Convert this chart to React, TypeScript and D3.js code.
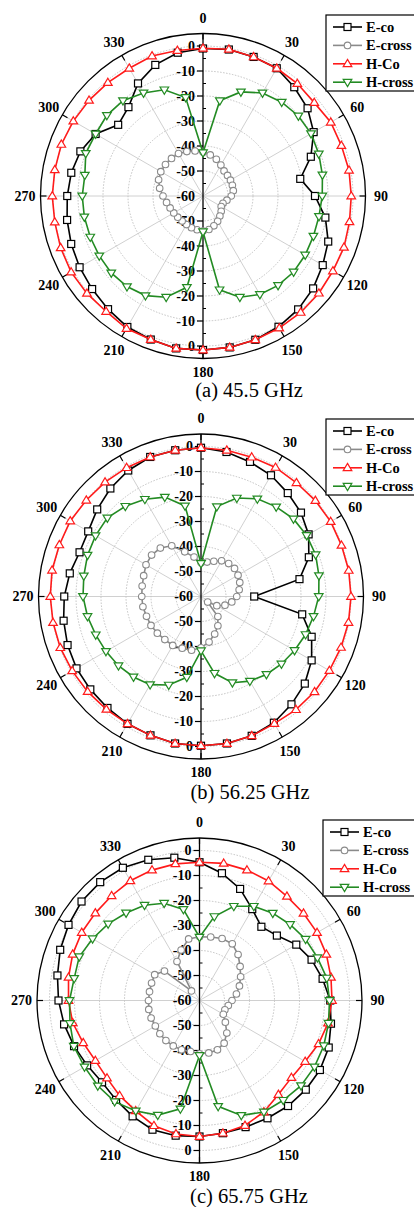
import React, { useEffect, useRef } from 'react';
import * as d3 from 'd3';

// angle of every sample, degrees clockwise from top
const angles = [0, 10, 20, 30, 40, 50, 60, 70, 80, 90, 100, 110, 120, 130, 140, 150, 160, 170,
  180, 190, 200, 210, 220, 230, 240, 250, 260, 270, 280, 290, 300, 310, 320, 330, 340, 350];

const angleTicks = [0, 30, 60, 90, 120, 150, 180, 210, 240, 270, 300, 330];
const radialTicks = [-50, -40, -30, -20, -10, 0];
const minorTicks = [-55, -45, -35, -25, -15, -5];
const seriesNames = ['E-co', 'E-cross', 'H-Co', 'H-cross'];
const captions = ['(a) 45.5 GHz', '(b) 56.25 GHz', '(c) 65.75 GHz'];

// (a) 45.5 GHz
const eCoA = [-1, -0.5, -0.8, -1, -3.2, -5.4, -8.9, -14.1, -20.5, -15.2, -10.3, -6.7, -4.7, -2.5, -0.8, 0.4, 1.2, 1.5,
  1.6, 1.9, 1.1, 0.5, -0.9, -2.1, -3, -3.9, -4.8, -5.7, -6.5, -7.8, -10.4, -15.7, -13.6, -8, -4.2, -1.8];
const eCrossA = [-42.5, -43.3, -44.4, -45.7, -46.9, -47.2, -47.3, -47.5, -47.7, -48.7, -50.3, -51.5, -51.6, -50.5, -49.5, -48.3, -47.3, -46.4,
  -46, -46.3, -46.5, -46.8, -47, -46.8, -46.5, -46, -45.2, -44, -42.4, -41.1, -40.5, -40.4, -40.4, -40.4, -41.1, -41.7];
const hCoA = [-0.9, -0.4, -0.8, -1, -1.3, -1.9, -1, -1.1, -0.7, -0.7, -0.5, 0, 0, 0.5, 0.8, 1, 1.2, 1.5,
  1.6, 1.9, 1.1, 1.2, 0.3, 0.6, 0.9, 0.6, 0.2, 0.3, 0.2, 0.3, -0.1, -0.5, -0.8, -1, -0.4, -0.9];
const hCrossA = [-42.7, -21.3, -15.7, -12.4, -11, -10.2, -10.1, -10.7, -11.5, -12.3, -12.9, -13, -12.8, -12.7, -13.3, -14.5, -16.9, -21.9,
  -45.7, -22.9, -16.9, -14, -12.7, -12.1, -12.1, -12, -11.8, -11.7, -12, -10.1, -10.4, -9.8, -10.2, -12.4, -14.8, -20];

// (b) 56.25 GHz
const eCoB = [-0.5, -1.3, -2.7, -4, -6, -7.8, -10.3, -14.1, -20, -38.7, -18.9, -12.9, -8.9, -5.8, -3.7, -1.7, -0.7, -0.3,
  -0.3, -0.3, -0.9, -1.2, -1.8, -2.2, -2.5, -3.2, -4.2, -5.3, -6.7, -8.3, -7.9, -5.8, -3.6, -1.8, -0.6, -0.6];
const eCrossB = [-46.5, -46, -45, -43.5, -42.8, -42.5, -42.9, -43.5, -44.5, -45.7, -47.5, -49.8, -52.7, -56.5, -49.5, -46.5, -44, -41.5,
  -39.5, -38.2, -38, -37.4, -37.5, -37.2, -36.9, -36.8, -36.4, -36.3, -36.1, -35.6, -34.6, -34.2, -34.7, -36.6, -41, -44];
const hCoB = [-0.5, -0.6, -0.7, -0.4, -0.6, -0.3, -0.1, -0.2, 0, 0, -0.1, -0.4, -0.7, -0.7, -0.9, -1.3, -0.7, -0.3,
  -0.3, -0.3, -0.9, -1.2, -1.1, -0.8, -0.5, -0.1, 0.1, 0.3, 0.5, 0.3, 0.4, -0.1, -0.3, -0.5, -0.6, -0.6];
const hCrossB = [-46.8, -23.5, -18.1, -14.9, -13.2, -11.7, -11.2, -11.2, -12.1, -12.9, -14.3, -15.5, -16.8, -18, -19.3, -20.9, -23.3, -28.8,
  -38.3, -27.2, -22.3, -19.3, -18, -16.9, -16.1, -15.2, -13.9, -12.8, -12.4, -11.7, -11.3, -11.1, -12.9, -15.1, -17.7, -23.2];

// (c) 65.75 GHz
const eCoC = [-4.7, -8.3, -12.5, -17.8, -21.5, -19.6, -15.3, -12.3, -10, -7.7, -6.6, -5, -4.4, -4.5, -4.9, -5.6, -6.1, -6.1,
  -5.6, -5.1, -5, -6.5, -8.1, -9.1, -8.1, -6.6, -5, -3.6, -2.3, -0.7, 0.5, 1.6, 1.8, 1.3, -0.1, -2];
const eCrossC = [-34.5, -34.2, -33.6, -33.8, -36, -38.8, -41, -43, -45, -47, -48.3, -49.2, -49, -46.5, -43, -40.3, -39, -38.7,
  -38.7, -39.3, -39, -39, -39.1, -39.3, -39.6, -39.4, -39.4, -39.6, -39.7, -39.6, -39.3, -41.7, -55, -42, -38.5, -35];
const hCoC = [-4.7, -4.3, -4.5, -4.8, -5.6, -5.7, -5.7, -6, -6.6, -7, -7.8, -9.3, -11.2, -12, -10.9, -8.5, -6.8, -6.1,
  -5.6, -5.8, -6.7, -9, -10.3, -11.7, -11.9, -10.5, -8.5, -7.6, -6.8, -6, -5.6, -5.6, -5.3, -4.7, -4.5, -4.5];
const hCrossC = [-34.7, -25.9, -19.9, -16.5, -14.4, -12.7, -11, -9.8, -8.3, -8, -7.6, -7.1, -6.9, -7, -7.9, -8.5, -11.1, -17,
  -38, -16, -11.2, -9, -7.2, -6.9, -6.9, -6.5, -7.4, -8, -9.1, -8.8, -10.6, -12.3, -14.3, -16, -18.6, -23];

const styles = [
  { color: '#000000', marker: 'square' },
  { color: '#8a8a8a', marker: 'circle' },
  { color: '#ff1a1a', marker: 'up' },
  { color: '#238b23', marker: 'down' },
];

const layouts = [
  { cx: 203, cy: 196, legendX: 326, legendY: 15, capX: 249, capY: 397 },
  { cx: 201, cy: 596.5, legendX: 326, legendY: 419, capX: 250, capY: 798.5 },
  { cx: 199.5, cy: 1000.5, legendX: 323, legendY: 820, capX: 249, capY: 1202.5 },
];

const plotData = [
  [eCoA, eCrossA, hCoA, hCrossA],
  [eCoB, eCrossB, hCoB, hCrossB],
  [eCoC, eCrossC, hCoC, hCrossC],
];

const FONT = '"Liberation Serif", "Times New Roman", serif';

function drawMarker(g, type, color, x, y) {
  if (type === 'square') {
    g.append('rect').attr('x', x - 3.5).attr('y', y - 3.5).attr('width', 7).attr('height', 7)
      .attr('fill', '#fff').attr('stroke', color).attr('stroke-width', 1.2);
  } else if (type === 'circle') {
    g.append('circle').attr('cx', x).attr('cy', y).attr('r', 3.3)
      .attr('fill', '#fff').attr('stroke', color).attr('stroke-width', 1.1);
  } else {
    const s = type === 'up' ? 1 : -1;
    g.append('path')
      .attr('d', `M${x},${y - 4.4 * s} L${x + 4.3},${y + 2.8 * s} L${x - 4.3},${y + 2.8 * s} Z`)
      .attr('fill', '#fff').attr('stroke', color).attr('stroke-width', 1.2);
  }
}

function App() {
  const svgRef = useRef(null);

  useEffect(() => {
    const svg = d3.select(svgRef.current);
    svg.selectAll('*').remove();

    const r = d3.scaleLinear().domain([-60, 5]).range([0, 162.5]);
    const rad = (a) => (a * Math.PI) / 180;
    const outer = r(5);

    layouts.forEach((lay, pi) => {
      const g = svg.append('g').attr('transform', `translate(${lay.cx},${lay.cy})`);

      // dotted grid circles
      g.selectAll('circle.grid').data(radialTicks).enter().append('circle')
        .attr('r', (d) => r(d)).attr('fill', 'none')
        .attr('stroke', '#b4b4b4').attr('stroke-width', 0.8).attr('stroke-dasharray', '1.5,1.5');

      // spokes
      angleTicks.filter((a) => a % 180 !== 0).forEach((a) => {
        g.append('line').attr('x1', 0).attr('y1', 0)
          .attr('x2', outer * Math.sin(rad(a))).attr('y2', -outer * Math.cos(rad(a)))
          .attr('stroke', '#c4c4c4').attr('stroke-width', 0.8);
      });

      // outer circle + inward ticks + angle labels
      g.append('circle').attr('r', outer).attr('fill', 'none').attr('stroke', '#000').attr('stroke-width', 1.3);
      angleTicks.forEach((a) => {
        const s = Math.sin(rad(a)), c = Math.cos(rad(a));
        const lr = a === 180 ? 176 : 178;
        g.append('line')
          .attr('x1', outer * s).attr('y1', -outer * c)
          .attr('x2', (outer - 6) * s).attr('y2', -(outer - 6) * c)
          .attr('stroke', '#000').attr('stroke-width', 1.2);
        g.append('text')
          .attr('x', lr * s).attr('y', -lr * c).attr('dy', '0.35em')
          .attr('text-anchor', 'middle').attr('font-family', FONT).attr('font-weight', 'bold')
          .attr('font-size', 14).text(a);
      });

      // vertical radial axis
      g.append('line').attr('x1', 0).attr('y1', -outer).attr('x2', 0).attr('y2', outer)
        .attr('stroke', '#000').attr('stroke-width', 1.3);
      minorTicks.forEach((v) => {
        [-r(v), r(v)].forEach((y) => {
          g.append('line').attr('x1', 0).attr('x2', 3).attr('y1', y).attr('y2', y)
            .attr('stroke', '#000').attr('stroke-width', 1);
        });
      });
      const labels = [{ v: -60, y: 0 }];
      radialTicks.forEach((v) => {
        labels.push({ v, y: -r(v) });
        labels.push({ v, y: r(v) });
      });
      labels.forEach((l) => {
        if (l.v !== -60) {
          g.append('line').attr('x1', -6).attr('x2', 0).attr('y1', l.y).attr('y2', l.y)
            .attr('stroke', '#000').attr('stroke-width', 1.2);
        }
        g.append('text').attr('x', -8).attr('y', l.y).attr('dy', '0.35em')
          .attr('text-anchor', 'end').attr('font-family', FONT).attr('font-weight', 'bold')
          .attr('font-size', 14).text(l.v);
      });

      // series
      const line = d3.lineRadial()
        .angle((d) => rad(d[0]))
        .radius((d) => r(d[1]))
        .curve(d3.curveLinearClosed);

      plotData[pi].forEach((vals, si) => {
        const st = styles[si];
        const pts = angles.map((a, i) => [a, vals[i]]);
        g.append('path').attr('d', line(pts)).attr('fill', 'none')
          .attr('stroke', st.color).attr('stroke-width', 1.6);
        const mg = g.append('g');
        pts.forEach(([a, v]) => {
          drawMarker(mg, st.marker, st.color, r(v) * Math.sin(rad(a)), -r(v) * Math.cos(rad(a)));
        });
      });

      // legend
      const lg = svg.append('g').attr('transform', `translate(${lay.legendX},${lay.legendY})`);
      lg.append('rect').attr('width', 100).attr('height', 76)
        .attr('fill', '#fff').attr('stroke', '#000').attr('stroke-width', 1.2);
      seriesNames.forEach((name, i) => {
        const y = 12 + i * 18.4;
        const st = styles[i];
        lg.append('line').attr('x1', 7).attr('x2', 36).attr('y1', y).attr('y2', y)
          .attr('stroke', st.color).attr('stroke-width', 1.6);
        drawMarker(lg, st.marker, st.color, 21.5, y);
        lg.append('text').attr('x', 40).attr('y', y).attr('dy', '0.35em')
          .attr('font-family', FONT).attr('font-weight', 'bold').attr('font-size', 14.5).text(name);
      });

      // caption
      svg.append('text').attr('x', lay.capX).attr('y', lay.capY)
        .attr('text-anchor', 'middle').attr('font-family', FONT).attr('font-size', 20.5)
        .text(captions[pi]);
    });
  }, []);

  return (
    <svg ref={svgRef} width={414} height={1207}
      style={{ position: 'absolute', left: 0, top: 0, background: '#fff' }} />
  );
}

export default App;
